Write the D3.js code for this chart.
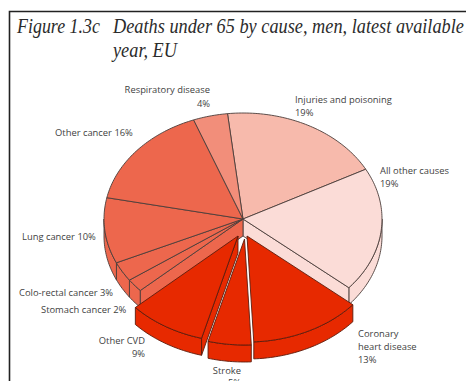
<!DOCTYPE html>
<html>
<head>
<meta charset="utf-8">
<script src="https://cdnjs.cloudflare.com/ajax/libs/d3/7.8.5/d3.min.js"></script>
<style>
  html, body { margin: 0; padding: 0; background: #fff; }
  svg { display: block; }
  .label { font-family: "Open Sans", sans-serif; font-size: 9.4px; fill: #3f3f3f; }
  .title { font-family: "Liberation Serif", serif; font-style: italic; font-size: 21px; fill: #2b2b2b; }
</style>
</head>
<body>
<svg id="chart" width="466" height="381"></svg>
<script>
// Share of deaths under 65 by cause, clockwise from the top of the pie.
const causes = ["Injuries and poisoning", "All other causes", "Coronary heart disease", "Stroke", "Other CVD",
                "Stomach cancer", "Colo-rectal cancer", "Lung cancer", "Other cancer", "Respiratory disease"];
const shares = [19, 19, 13, 5, 9, 2, 3, 10, 16, 4];
const fills  = ["#f7baac", "#fbdcd7", "#e72900", "#e72900", "#e72900",
                "#ed674d", "#ed674d", "#ed674d", "#ed674d", "#f28e7a"];

// Label lines: [text, x, baseline, anchor]
const labelLines = [
  ["Respiratory disease", 210, 93, "end"], ["4%", 210, 107, "end"],
  ["Injuries and poisoning", 295, 103, "start"], ["19%", 295, 116, "start"],
  ["Other cancer 16%", 55, 136, "start"],
  ["All other causes", 380, 174, "start"], ["19%", 380, 187, "start"],
  ["Lung cancer 10%", 22, 240, "start"],
  ["Colo-rectal cancer 3%", 19, 296, "start"],
  ["Stomach cancer 2%", 41, 313, "start"],
  ["Other CVD", 145, 344, "end"], ["9%", 145, 357, "end"],
  ["Stroke", 241, 374, "end"], ["5%", 241, 385.5, "end"],
  ["Coronary", 358, 337, "start"], ["heart disease", 358, 350, "start"], ["13%", 358, 363, "start"]
];

// Title lines: [text, x, baseline, set width]
const titleLines = [
  ["Figure 1.3c", 17, 33, 83],
  ["Deaths under 65 by cause, men, latest available", 113, 33, 351],
  ["year, EU", 113, 57, 64]
];

// Pie geometry: an ellipse lying flat, with a rim below it.
const cx = 243, cy = 219, rx = 139, ry = 106, depth = 17;
const startAngle = -6.4 * Math.PI / 180;

// Slices pulled out of the pie and how far they travel.
const pulled = new Map([
  ["Coronary heart disease", [4, 17]],
  ["Stroke", [1.5, 20]],
  ["Other CVD", [-5, 17]]
]);

const svg = d3.select("#chart");

// Page frame behind the figure.
svg.append("path")
  .attr("d", "M9.5,381V11.5H466")
  .attr("fill", "none").attr("stroke", "#222").attr("stroke-width", 1.6);

// The title face runs wide, so each line is condensed horizontally to its set width.
svg.selectAll("text.title").data(titleLines).join("text")
  .attr("class", "title")
  .text(d => d[0])
  .attr("transform", function (d) {
    return `translate(${d[1]},${d[2]}) scale(${d[3] / this.getComputedTextLength()},1)`;
  });

const arcs = d3.pie().sort(null).startAngle(startAngle).endAngle(startAngle + 2 * Math.PI)(shares)
  .map((a, i) => {
    const off = pulled.get(causes[i]) || [0, 0];
    return { ...a, cause: causes[i], fill: fills[i], ox: cx + off[0], oy: cy + off[1], isPulled: pulled.has(causes[i]) };
  });

const pt = (s, t, dz = 0) => [s.ox + rx * Math.sin(t), s.oy - ry * Math.cos(t) + dz];

function arcPoints(s, a0, a1, dz) {
  const n = Math.max(2, Math.ceil(Math.abs(a1 - a0) / 0.02));
  return d3.range(n + 1).map(k => pt(s, a0 + (a1 - a0) * k / n, dz));
}

const line = d3.line();
const stroke = s => s.isPulled ? "#5c1c0c" : "#4b3d3a";
const layer = svg.append("g").attr("stroke-linejoin", "round");

function face(points, s) {
  layer.append("path").attr("d", line(points) + "Z")
    .attr("fill", s.fill).attr("stroke", stroke(s)).attr("stroke-width", 0.9);
}

// Outer rim, limited to the part of each slice that faces the viewer.
function drawRim(s) {
  const a0 = Math.max(s.startAngle, Math.PI / 2);
  const a1 = Math.min(s.endAngle, 3 * Math.PI / 2);
  if (a1 <= a0) return;
  face([...arcPoints(s, a0, a1, 0), ...arcPoints(s, a1, a0, depth)], s);
}

// Flat cut wall running from the pie centre out along one radius.
function drawCut(s, angle) {
  const p = pt(s, angle);
  const q = pt(s, angle, depth);
  face([[s.ox, s.oy], p, q, [s.ox, s.oy + depth]], s);
}

function drawTop(s) {
  face([[s.ox, s.oy], ...arcPoints(s, s.startAngle, s.endAngle, 0)], s);
}

const body = arcs.filter(s => !s.isPulled);
const out = arcs.filter(s => s.isPulled);
const allOther = arcs.find(s => s.cause === "All other causes");
const stomach = arcs.find(s => s.cause === "Stomach cancer");

// Body of the pie first, including the walls exposed by the pulled slices.
body.forEach(drawRim);
drawCut(allOther, allOther.endAngle);
drawCut(stomach, stomach.startAngle);
body.forEach(drawTop);

// Pulled slices sit in front of the body.
const cvd = arcs.find(s => s.cause === "Other CVD");
drawCut(cvd, cvd.startAngle);
out.forEach(drawRim);
out.forEach(drawTop);

svg.selectAll("text.label").data(labelLines).join("text")
  .attr("class", "label")
  .attr("x", d => d[1])
  .attr("y", d => d[2])
  .attr("text-anchor", d => d[3])
  .text(d => d[0]);
</script>
</body>
</html>
